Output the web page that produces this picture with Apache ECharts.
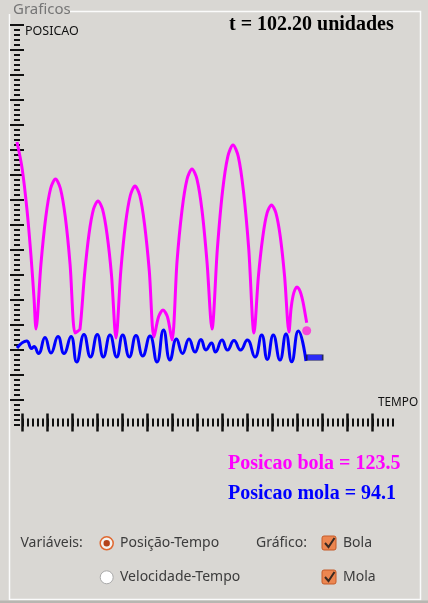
<!doctype html>
<html lang="pt">

<head>
    <meta charset="UTF-8" />
    <title>Graficos</title>
    <style>
        html, body { margin: 0; padding: 0; background: #d9d7d3; }
        #grafico { width: 428px; height: 603px; }
    </style>
</head>

<body>
    <div id="grafico"></div>

    <script src="https://cdn.jsdelivr.net/npm/echarts@6/dist/echarts.min.js"></script>
    <script type="text/javascript">
        // valores (unidades da regua)
        var bolaTempo = [-5.7, -0.7, 4.3, 8.3, 11.3, 13.3, 18.2, 23.1, 27.9, 32.8, 37.7, 42.6, 47.4, 52.3, 55.3, 57.3,
            61.8, 66.3, 70.8, 75.3, 79.8, 84.3, 88.8, 93.3, 98.1, 102.8, 107.6, 112.3, 117.1, 121.8, 126.6, 131.3,
            135.8, 140.3, 144.8, 149.3, 154.3, 159.3, 164.3, 169.3, 174.3, 179.3, 184.3, 189.3, 194.6, 199.8, 205.1,
            210.3, 215.6, 220.8, 226.1, 231.3, 235.7, 240.1, 244.4, 248.8, 253.2, 257.6, 261.9, 266.3, 268.3, 270.3,
            272.3, 274.3, 276.3, 278.3, 280.3, 282.3, 284];
        var bolaPosicao = [283, 257.4, 215.2, 169, 127.2, 96, 160.5, 208, 236.5, 246, 236.5, 208, 160.5, 92, 94, 96,
            149.8, 191, 215.8, 224, 215.8, 191, 149.8, 87, 154, 201, 229.5, 239, 229.5, 201, 154, 88,
            108, 115, 108, 85, 163.2, 214.8, 245.7, 256, 245.7, 214.8, 163.2, 96, 175.4, 233.5, 268.4,
            280, 268.4, 233.5, 175.4, 92, 148.6, 188.3, 212.1, 220, 212.1, 188.3, 148.6, 93, 116, 129,
            135.5, 138, 136, 131, 123, 112, 102.3];

        var molaTempo = [-5.7, 4, 8.8, 11.3, 15.8, 22.3, 28.3, 35.3, 41.3, 48.3, 54, 61.3, 67.8, 74.6, 80.6, 87.3,
            94, 100, 106.6, 113.3, 120, 127.3, 134.3, 140.8, 147.3, 153.8, 159.8, 166.3, 172.3, 178.3, 183.3,
            188.8, 192.8, 199.3, 204.8, 211.3, 217.8, 224.6, 232.3, 239, 244.6, 250.6, 257.3, 263.3, 269, 275.6, 283.3];
        var molaPosicao = [77, 84, 76.5, 78.5, 71.5, 87.5, 72, 88.5, 71.5, 88.5, 63, 90.5, 68, 90.5, 68, 90,
            68, 90, 68, 89.5, 69, 89, 63, 95, 65, 86, 71.5, 86, 73, 85.5, 75,
            82, 73, 85, 75, 84.5, 75, 85, 68, 90, 65.5, 90, 65, 91, 63.3, 94, 64];

        var bolaAtual = [284, 94.3];
        var molaAtual = [292, 67.5];

        var tempoAtual = '102.20';
        var posicaoBola = '123.5';
        var posicaoMola = '94.1';

        var tMin = -5.7;   // inicio das curvas, encostado na regua vertical
        var xMax = 370;
        var yMax = 400;
        var xMaiores = [0, 25, 50, 75, 100, 125, 150, 175, 200, 225, 250, 275, 300, 325, 350];
        var yMaiores = [25, 50, 75, 100, 125, 150, 175, 200, 225, 250, 275, 300, 325, 350, 375, 400];

        function zip(a, b) {
            var out = [];
            for (var i = 0; i < a.length; i++) out.push([a[i], b[i]]);
            return out;
        }

        // eixo-regua: so tracinhos, sem linha nem rotulos
        function regua(grade, pos, offset, min, max, comp, dentro, largura, intervalo, valores) {
            var tick = {
                show: comp > 0,
                inside: dentro,
                length: comp,
                lineStyle: { color: '#111', width: largura }
            };
            if (valores) tick.customValues = valores;
            return {
                type: 'value',
                gridIndex: grade,
                position: pos,
                offset: offset,
                min: min,
                max: max,
                interval: intervalo,
                axisLine: { show: false, onZero: false },
                axisTick: tick,
                axisLabel: { show: false },
                splitLine: { show: false }
            };
        }

        var chart = echarts.init(document.getElementById('grafico'));

        var fonteUI = '"Noto Sans", "DejaVu Sans", sans-serif';
        var fonteSerif = '"Liberation Serif", "DejaVu Serif", serif';

        function caixa(y) {
            return [{
                type: 'rect',
                shape: { x: 322, y: y - 7, width: 14, height: 14, r: 2 },
                style: { fill: '#ec8650', stroke: '#c55a28', lineWidth: 1 }
            }, {
                type: 'polyline',
                shape: { points: [[325, y], [328.5, y + 4], [334.5, y - 5]] },
                style: { stroke: '#3b2a22', lineWidth: 2, fill: null }
            }];
        }

        var option = {
            backgroundColor: '#d9d7d3',
            animation: false,
            grid: [
                // curvas + regua vertical
                { left: 17, top: 25, width: 375.7, height: 400, containLabel: false },
                // regua horizontal
                { left: 22.7, top: 25, width: 370, height: 400, containLabel: false }
            ],
            xAxis: [
                regua(0, 'bottom', 0, tMin, xMax, 0, false, 1, null),
                regua(1, 'bottom', -2.5, 0, xMax, 4, false, 2, 5),
                regua(1, 'bottom', -2.5, 0, xMax, 4, true, 2, 5),
                regua(1, 'bottom', -2.5, 0, xMax, 9, false, 2.5, 25, xMaiores),
                regua(1, 'bottom', -2.5, 0, xMax, 9, true, 2.5, 25, xMaiores)
            ],
            yAxis: [
                regua(0, 'left', 0, 0, yMax, 3, false, 2, 5),
                regua(0, 'left', 0, 0, yMax, 3, true, 2, 5),
                regua(0, 'left', 0, 0, yMax, 7, false, 2, 25, yMaiores),
                regua(0, 'left', 0, 0, yMax, 7, true, 2, 25, yMaiores),
                regua(1, 'left', 0, 0, yMax, 0, false, 1, null)
            ],
            series: [{
                name: 'Bola',
                type: 'line',
                data: zip(bolaTempo, bolaPosicao),
                showSymbol: false,
                symbol: 'none',
                clip: false,
                smooth: 0.3,
                lineStyle: { color: '#ff00ff', width: 3 },
                z: 2
            }, {
                name: 'Mola',
                type: 'line',
                data: zip(molaTempo, molaPosicao),
                showSymbol: false,
                symbol: 'none',
                clip: false,
                smooth: 0.5,
                lineStyle: { color: '#0000ff', width: 3 },
                z: 3
            }, {
                name: 'bola atual',
                type: 'scatter',
                data: [bolaAtual],
                symbol: 'circle',
                symbolSize: 9,
                itemStyle: { color: '#ff22dd' },
                z: 4
            }, {
                name: 'mola atual',
                type: 'scatter',
                data: [molaAtual],
                symbol: 'rect',
                symbolSize: [16, 5.5],
                itemStyle: { color: '#0000ff', borderColor: '#1a1a3a', borderWidth: 1 },
                z: 4
            }],
            graphic: [{
                type: 'polyline',
                shape: { points: [[70, 11.5], [420.5, 11.5], [420.5, 599.5], [9.5, 599.5], [9.5, 14]] },
                style: { stroke: '#fbfbfb', lineWidth: 1.5, fill: null }
            }, {
                type: 'rect',
                shape: { x: 0, y: 600.5, width: 428, height: 3 },
                style: { fill: '#b8b6b1' }
            }, {
                type: 'text', left: 13, top: 2,
                style: { text: 'Graficos', font: '15px ' + fonteUI, fill: '#767676' }
            }, {
                type: 'text', x: 25, y: 31.5,
                style: { text: 'POSICAO', font: '12.5px ' + fonteUI, fill: '#111', verticalAlign: 'middle' }
            }, {
                type: 'text', x: 378, y: 403,
                style: { text: 'TEMPO', font: '11.8px ' + fonteUI, fill: '#111', verticalAlign: 'middle' }
            }, {
                type: 'text', x: 229, y: 25,
                style: { text: 't = ' + tempoAtual + ' unidades', font: 'bold 20px ' + fonteSerif, fill: '#000', verticalAlign: 'middle' }
            }, {
                type: 'text', x: 228, y: 463.5,
                style: { text: 'Posicao bola = ' + posicaoBola, font: 'bold 20px ' + fonteSerif, fill: '#ff00ff', verticalAlign: 'middle' }
            }, {
                type: 'text', x: 228, y: 493.5,
                style: { text: 'Posicao mola = ' + posicaoMola, font: 'bold 20px ' + fonteSerif, fill: '#0000ff', verticalAlign: 'middle' }
            }, {
                type: 'text', x: 20.5, y: 543,
                style: { text: 'Variáveis:', font: '14px ' + fonteUI, fill: '#3c3c3c', verticalAlign: 'middle' }
            }, {
                type: 'circle', shape: { cx: 106.7, cy: 543.3, r: 6.5 },
                style: { fill: '#f3f2ef', stroke: '#e0682f', lineWidth: 1.5 }
            }, {
                type: 'circle', shape: { cx: 106.7, cy: 543.3, r: 3.2 },
                style: { fill: '#b4431a' }
            }, {
                type: 'text', x: 120, y: 543,
                style: { text: 'Posição-Tempo', font: '14px ' + fonteUI, fill: '#3c3c3c', verticalAlign: 'middle' }
            }, {
                type: 'circle', shape: { cx: 106.7, cy: 577.3, r: 6.5 },
                style: { fill: '#ffffff', stroke: '#a9a9a9', lineWidth: 1 }
            }, {
                type: 'text', x: 120, y: 577,
                style: { text: 'Velocidade-Tempo', font: '14px ' + fonteUI, fill: '#3c3c3c', verticalAlign: 'middle' }
            }, {
                type: 'text', x: 256, y: 543,
                style: { text: 'Gráfico:', font: '14px ' + fonteUI, fill: '#3c3c3c', verticalAlign: 'middle' }
            }].concat(caixa(543), caixa(577), [{
                type: 'text', x: 343, y: 543,
                style: { text: 'Bola', font: '14px ' + fonteUI, fill: '#3c3c3c', verticalAlign: 'middle' }
            }, {
                type: 'text', x: 343, y: 577,
                style: { text: 'Mola', font: '14px ' + fonteUI, fill: '#3c3c3c', verticalAlign: 'middle' }
            }])
        };

        chart.setOption(option);
    </script>
</body>

</html>
